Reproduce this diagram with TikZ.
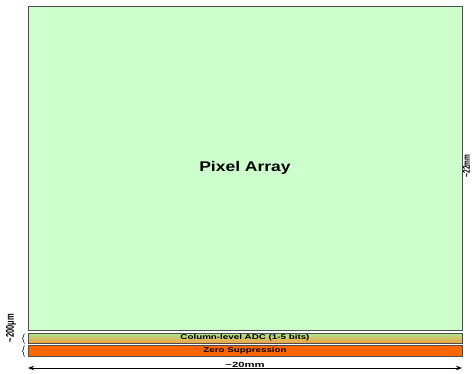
\documentclass[tikz,border=0pt]{standalone}
\usepackage{fontspec}
\setmainfont{Liberation Sans}
\usetikzlibrary{positioning,decorations.pathreplacing,arrows.meta}
\definecolor{pixgreen}{HTML}{CCFFCC}
\definecolor{zsorange}{HTML}{FF6600}
\definecolor{adcgreen}{HTML}{A8E890}
\definecolor{adcorange}{HTML}{F5A040}
\tikzset{
  block/.style={draw=black!70, line width=1pt, minimum width=434pt, inner sep=0pt},
  dimlabel/.style={font=\bfseries\fontsize{7.5}{8}\selectfont, xscale=1.5, inner sep=0.5pt},
  striplabel/.style={font=\bfseries\fontsize{7}{8}\selectfont, xscale=1.4, inner sep=0pt},
}
\begin{document}
\begin{tikzpicture}[x=1pt,y=-1pt]
  \useasboundingbox (0,0) rectangle (472,373);
  % blocks
  \node[block, fill=pixgreen, minimum height=324pt] (pix) at (245,168) {};
  \node[block, minimum height=10pt, top color=adcgreen, bottom color=adcorange] (adc) at (245,338) {};
  \node[block, fill=zsorange, minimum height=11pt] (zs) at (245,350.5) {};
  % texts
  \node[font=\bfseries\fontsize{14}{16}\selectfont, xscale=1.25] at (pix.center) {Pixel Array};
  \node[striplabel] at (adc.center) {Column-level ADC (1-5 bits)};
  \node[striplabel] at (zs.center) {Zero Suppression};
  % dimensions
  \node[dimlabel, font=\bfseries\fontsize{6.5}{7}\selectfont, rotate=90, inner sep=0pt] at (466.5,166) {\textasciitilde 22mm};
  \coordinate (l) at (28,368);
  \coordinate (r) at (462,368);
  \draw[{Stealth[length=6pt]}-{Stealth[length=6pt]}, line width=0.9pt] (l) -- node[dimlabel, above=-0.5pt] {\textasciitilde 20mm} (r);
  \draw[decorate, decoration={brace, amplitude=2pt}, line width=0.5pt] (adc.south west) ++(-3,0) -- ++(0,-10);
  \draw[decorate, decoration={brace, amplitude=2pt}, line width=0.5pt] (zs.south west) ++(-3,0) -- ++(0,-11);
  \node[dimlabel, rotate=90] at (11,328) {\textasciitilde 200μm};
\end{tikzpicture}
\end{document}
